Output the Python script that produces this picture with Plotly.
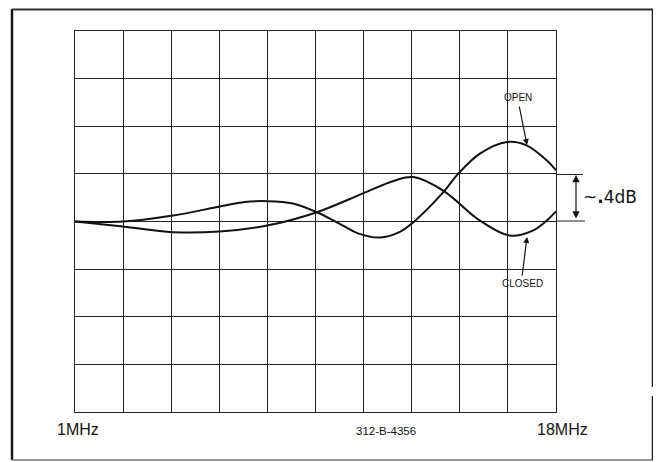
import plotly.graph_objects as go

# ---- data (MHz, dB relative) ----
open_mhz = [1.0, 2.7, 4.46, 6.12, 7.0, 7.79, 8.7, 9.55, 10.47, 11.0, 11.78, 12.5, 12.95, 14.01, 14.54, 15.31, 16.27, 16.96, 17.67, 18.0]
open_db = [0.0, 0.0, 0.05, 0.126, 0.164, 0.171, 0.152, 0.078, -0.034, -0.1, -0.135, -0.085, -0.008, 0.244, 0.40, 0.57, 0.668, 0.64, 0.514, 0.43]

closed_mhz = [1.0, 2.7, 4.46, 6.12, 7.79, 9.55, 11.18, 12.31, 12.95, 14.01, 15.31, 16.37, 17.18, 17.67, 18.0]
closed_db = [0.0, -0.042, -0.09, -0.084, -0.034, 0.078, 0.236, 0.345, 0.373, 0.26, 0.008, -0.118, -0.076, 0.008, 0.085]

x_start_label = "1MHz"
x_end_label = "18MHz"
open_label = "OPEN"
closed_label = "CLOSED"
scale_label = "~<b>.</b>4dB"
drawing_no = "312-B-4356"

# page (screen) geometry of the plot area; the page body has an 8px margin
OFF = 8
PL, PR, PT, PB = 75, 556, 31, 412
W, H = 661 - OFF, 462 - OFF
L, T = PL - OFF, PT - OFF
PW, PH = PR - PL, PB - PT
R, B = W - L - PW, H - T - PH


def px(xp):
    return (xp - PL) / PW


def py(yp):
    return (PB - yp) / PH


FONT = "Liberation Sans, Arial, Helvetica, sans-serif"
INK = "#111111"

fig = go.Figure()
fig.add_trace(go.Scatter(x=open_mhz, y=open_db, mode="lines", name="OPEN",
                         line=dict(color=INK, width=2, shape="spline", smoothing=1.0)))
fig.add_trace(go.Scatter(x=closed_mhz, y=closed_db, mode="lines", name="CLOSED",
                         line=dict(color=INK, width=2, shape="spline", smoothing=1.0)))

axis_common = dict(showgrid=True, gridcolor="#222222", gridwidth=1, showline=True,
                   linecolor="#222222", linewidth=1, mirror=True, showticklabels=False,
                   ticks="", zeroline=False, fixedrange=True)
fig.update_xaxes(range=[1, 18], tick0=1, dtick=1.7, **axis_common)
fig.update_yaxes(range=[-1.6, 1.6], tick0=0, dtick=0.4, **axis_common)

shapes = []
frame = dict(type="line", xref="paper", yref="paper", line=dict(color="#1a1a1a", width=2.5))
shapes.append(dict(frame, x0=px(12), x1=px(12), y0=py(9), y1=py(460)))
shapes.append(dict(frame, x0=px(12), x1=px(653), y0=py(9.5), y1=py(9.5), line=dict(color="#333", width=2)))
shapes.append(dict(frame, x0=px(12), x1=px(653), y0=py(460), y1=py(460), line=dict(color="#777", width=1.5)))
shapes.append(dict(frame, x0=px(653), x1=px(653), y0=py(9), y1=py(387)))
shapes.append(dict(frame, x0=px(653), x1=px(653), y0=py(396), y1=py(460)))
# scale ticks for the dB bracket
shapes.append(dict(type="line", xref="paper", yref="paper", x0=1, x1=px(583), y0=py(174.5), y1=py(174.5),
                   line=dict(color="#222", width=1)))
shapes.append(dict(type="line", xref="paper", yref="paper", x0=1, x1=px(585), y0=py(221), y1=py(221),
                   line=dict(color="#222", width=1)))
fig.update_layout(shapes=shapes)

ann = []
ann.append(dict(x=px(576), y=py(175), xref="paper", yref="paper", ax=0, ay=45, text="",
                showarrow=True, arrowhead=2, arrowside="end+start", arrowsize=1.2, arrowwidth=1.2,
                arrowcolor="#111"))
ann.append(dict(x=px(581), y=py(197), xref="paper", yref="paper", text=scale_label, showarrow=False,
                xanchor="left", yanchor="middle", font=dict(family="DejaVu Sans, sans-serif", size=17, color="#111")))
ann.append(dict(x=px(518), y=py(97.5), xref="paper", yref="paper", text=open_label, showarrow=False,
                xanchor="center", yanchor="middle", font=dict(family=FONT, size=10, color="#111")))
ann.append(dict(x=px(527), y=py(145), xref="paper", yref="paper", ax=-8, ay=-40, text="",
                showarrow=True, arrowhead=2, arrowsize=1, arrowwidth=1.2, arrowcolor="#111"))
ann.append(dict(x=px(522), y=py(283), xref="paper", yref="paper", text=closed_label, showarrow=False,
                xanchor="center", yanchor="middle", font=dict(family=FONT, size=10, color="#111")))
ann.append(dict(x=px(527), y=py(237), xref="paper", yref="paper", ax=-5, ay=40, text="",
                showarrow=True, arrowhead=2, arrowsize=1, arrowwidth=1.2, arrowcolor="#111"))
ann.append(dict(x=px(55), y=py(430), xref="paper", yref="paper", text=x_start_label, showarrow=False,
                xanchor="left", yanchor="middle", font=dict(family=FONT, size=16, color="#111")))
ann.append(dict(x=px(535), y=py(429), xref="paper", yref="paper", text=x_end_label, showarrow=False,
                xanchor="left", yanchor="middle", font=dict(family=FONT, size=16, color="#111")))
ann.append(dict(x=px(386), y=py(431), xref="paper", yref="paper", text=drawing_no, showarrow=False,
                xanchor="center", yanchor="middle", font=dict(family=FONT, size=11.5, color="#111")))

fig.update_layout(annotations=ann, width=W, height=H, margin=dict(l=L, r=R, t=T, b=B, pad=0),
                  paper_bgcolor="white", plot_bgcolor="white", showlegend=False,
                  font=dict(family=FONT, color="#111"))

fig.write_html("out.html", config={"displayModeBar": False})
